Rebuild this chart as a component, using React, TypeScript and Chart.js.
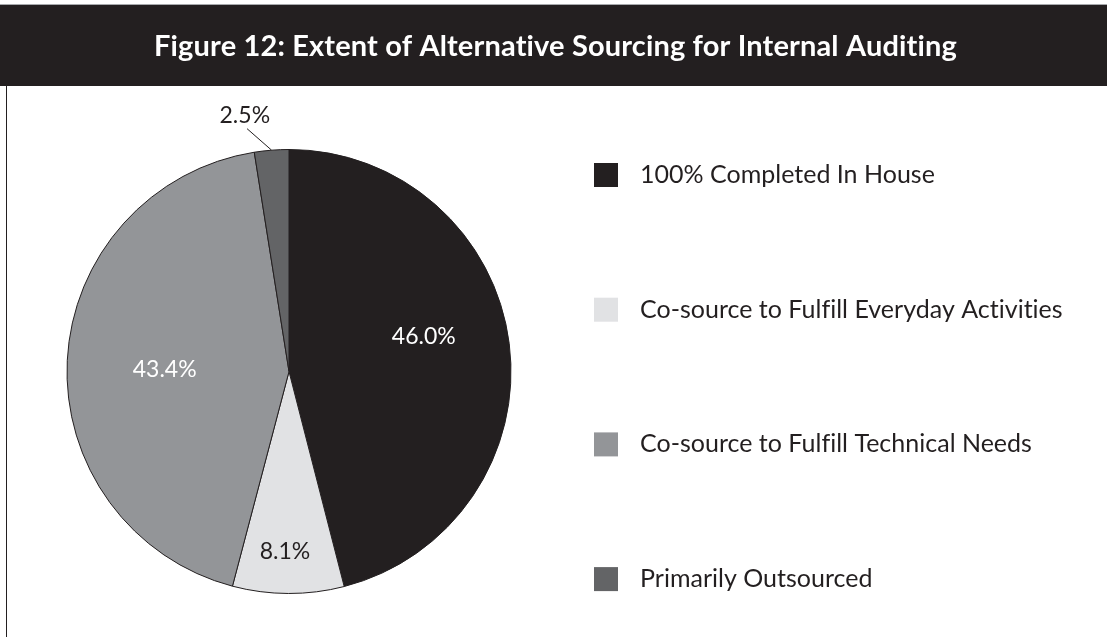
import React, { useEffect, useRef } from "react";
import { Chart, registerables } from "chart.js";

Chart.register(...registerables);

const titleText = "Figure 12: Extent of Alternative Sourcing for Internal Auditing";
const categories = [
  "100% Completed In House",
  "Co-source to Fulfill Everyday Activities",
  "Co-source to Fulfill Technical Needs",
  "Primarily Outsourced",
];
const shares = [46.0, 8.1, 43.4, 2.5];
const sliceColors = ["#231f20", "#e1e2e4", "#939598", "#636466"];
const labelColors = ["#ffffff", "#231f20", "#ffffff", "#231f20"];

const W = 1107;
const H = 637;
const INK = "#231f20";
const FONT = "Lato, 'Open Sans', sans-serif";

// label placement: radius fraction and angular shift (deg) relative to slice middle
const labelPlacement = [
  { r: 0.627, shift: -7.3 },
  { r: 0.81, shift: 1.1 },
  { r: 0.56, shift: -2.2 },
  { r: 1.17, shift: -5.3, leader: true },
];

const decorPlugin = {
  id: "decor",
  beforeDraw(chart: any) {
    const ctx = chart.ctx;
    ctx.save();
    ctx.fillStyle = "#ffffff";
    ctx.fillRect(0, 0, chart.width, chart.height);
    ctx.fillStyle = "#a7a9ac";
    ctx.fillRect(0, 4, chart.width, 1);
    ctx.fillStyle = INK;
    ctx.fillRect(0, 5, chart.width, 81);
    ctx.fillRect(6, 86, 1, chart.height - 86);
    ctx.fillStyle = "#ffffff";
    ctx.font = `bold 29px ${FONT}`;
    (ctx as any).letterSpacing = "0.15px";
    ctx.textAlign = "center";
    ctx.textBaseline = "middle";
    ctx.fillText(titleText, chart.width / 2 + 2, 47);
    ctx.restore();
  },
  afterDatasetsDraw(chart: any) {
    const ctx = chart.ctx;
    const meta = chart.getDatasetMeta(0);
    const values = chart.data.datasets[0].data as number[];
    ctx.save();
    ctx.font = `23px ${FONT}`;
    ctx.textAlign = "center";
    ctx.textBaseline = "middle";
    meta.data.forEach((arc: any, i: number) => {
      const p = arc.getProps(["x", "y", "startAngle", "endAngle", "outerRadius"], true);
      const mid = (p.startAngle + p.endAngle) / 2;
      const pl = labelPlacement[i];
      const a = mid + (pl.shift * Math.PI) / 180;
      const R = p.outerRadius;
      const tx = p.x + Math.cos(a) * R * pl.r;
      const ty = p.y + Math.sin(a) * R * pl.r;
      if (pl.leader) {
        ctx.strokeStyle = INK;
        ctx.lineWidth = 1;
        ctx.beginPath();
        ctx.moveTo(p.x + Math.cos(mid) * R, p.y + Math.sin(mid) * R);
        ctx.lineTo(p.x + Math.cos(a) * R * 1.11, p.y + Math.sin(a) * R * 1.11);
        ctx.stroke();
      }
      ctx.fillStyle = labelColors[i];
      ctx.fillText(values[i].toFixed(1) + "%", tx, ty);
    });

    // legend
    const labels = chart.data.labels as string[];
    ctx.font = `25px ${FONT}`;
    (ctx as any).letterSpacing = "0.01px";
    ctx.textAlign = "left";
    labels.forEach((lab, i) => {
      const cy = 175 + i * 134.7;
      ctx.fillStyle = sliceColors[i];
      ctx.fillRect(594, cy - 12, 24, 24);
      ctx.fillStyle = INK;
      ctx.fillText(lab, 640, cy);
    });
    ctx.restore();
  },
};

export default function App() {
  const ref = useRef<HTMLCanvasElement | null>(null);
  useEffect(() => {
    document.body.style.margin = "0";
    document.body.style.overflow = "hidden";
    let chart: Chart | null = null;
    let cancelled = false;
    const make = () => {
      if (cancelled || !ref.current) return;
      chart = new Chart(ref.current, {
        type: "pie",
        data: {
          labels: categories,
          datasets: [
            {
              data: shares,
              backgroundColor: sliceColors,
              borderColor: INK,
              borderWidth: 1,
              radius: 222,
            } as any,
          ],
        },
        options: {
          responsive: false,
          animation: false,
          layout: { padding: { left: 66, right: W - 512, top: 149, bottom: H - 594 } },
          plugins: {
            legend: { display: false },
            tooltip: { enabled: false },
            title: { display: false },
          },
        },
        plugins: [decorPlugin],
      });
    };
    const fonts = (document as any).fonts;
    if (fonts && fonts.load) {
      Promise.all([
        fonts.load(`bold 29px Lato`),
        fonts.load(`25px Lato`),
      ]).then(make, make);
    } else {
      make();
    }
    return () => {
      cancelled = true;
      if (chart) chart.destroy();
    };
  }, []);
  return <canvas ref={ref} width={W} height={H} style={{ display: "block", width: W, height: H }} />;
}
